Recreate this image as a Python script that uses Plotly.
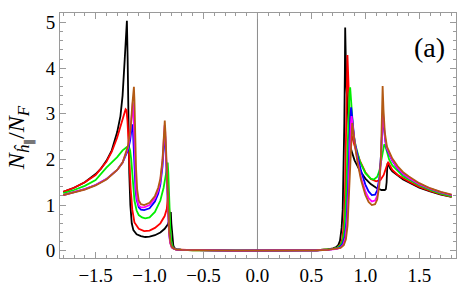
import plotly.graph_objects as go

# ---- data ----
bk_x = [-1.8,-1.7,-1.6,-1.5,-1.45,-1.4,-1.35,-1.3,-1.27,-1.25,-1.23,-1.218,-1.21,-1.203,-1.196,-1.188,-1.178,-1.165,-1.15,-1.12,-1.08,-1.04,-1.0,-0.95,-0.9,-0.86,-0.83,-0.815,-0.806,-0.803,-0.798,-0.79,-0.78,-0.77,-0.75,-0.7,-0.6,-0.4,-0.2,0,0.2,0.4,0.55,0.65,0.7,0.73,0.75,0.765,0.78,0.79,0.798,0.805,0.81,0.813,0.818,0.825,0.835,0.85,0.87,0.9,0.95,1.0,1.05,1.1,1.15,1.18,1.19,1.197,1.203,1.207,1.215,1.23,1.25,1.3,1.35,1.4,1.5,1.6,1.7,1.8]
bk_y = [1.29,1.38,1.5,1.68,1.8,1.97,2.2,2.6,2.95,3.4,4.2,4.6,5.04,4.2,2.9,1.7,1.0,0.6,0.45,0.36,0.32,0.30,0.31,0.34,0.4,0.48,0.58,0.68,0.8,0.85,0.6,0.3,0.12,0.06,0.03,0.02,0.01,0.005,0,0,0,0.005,0.01,0.03,0.05,0.08,0.13,0.22,0.5,0.9,1.6,2.8,3.9,4.89,4.3,3.6,3.0,2.5,2.2,1.98,1.75,1.58,1.46,1.38,1.33,1.33,1.35,1.5,1.85,1.92,1.88,1.8,1.74,1.64,1.56,1.5,1.38,1.3,1.23,1.18]

rd_x = [-1.8,-1.7,-1.6,-1.5,-1.4,-1.35,-1.3,-1.26,-1.235,-1.222,-1.214,-1.205,-1.195,-1.185,-1.175,-1.16,-1.14,-1.1,-1.05,-1.0,-0.95,-0.9,-0.86,-0.84,-0.832,-0.827,-0.822,-0.815,-0.805,-0.795,-0.78,-0.76,-0.7,-0.6,-0.4,-0.2,0,0.2,0.4,0.55,0.65,0.7,0.74,0.77,0.785,0.8,0.81,0.818,0.826,0.834,0.84,0.847,0.856,0.87,0.885,0.9,0.95,1.0,1.05,1.1,1.14,1.17,1.19,1.205,1.212,1.22,1.235,1.25,1.3,1.35,1.4,1.5,1.6,1.7,1.8]
rd_y = [1.29,1.38,1.5,1.66,1.95,2.17,2.48,2.82,3.03,3.1,3.08,2.85,2.4,1.85,1.35,0.9,0.62,0.48,0.43,0.44,0.5,0.6,0.76,0.92,1.1,1.29,1.1,0.7,0.3,0.13,0.06,0.03,0.02,0.01,0.005,0,0,0,0.005,0.01,0.03,0.04,0.07,0.14,0.25,0.55,1.1,2.0,3.3,4.29,3.9,3.3,2.85,2.55,2.4,2.3,1.97,1.72,1.57,1.52,1.55,1.66,1.8,1.93,1.95,1.9,1.83,1.77,1.66,1.58,1.52,1.4,1.31,1.24,1.18]

gr_x = [-1.8,-1.7,-1.6,-1.5,-1.4,-1.3,-1.25,-1.22,-1.2,-1.19,-1.18,-1.17,-1.16,-1.15,-1.14,-1.12,-1.1,-1.07,-1.04,-1.0,-0.95,-0.9,-0.87,-0.85,-0.838,-0.832,-0.826,-0.818,-0.808,-0.798,-0.785,-0.77,-0.75,-0.7,-0.6,-0.4,-0.2,0,0.2,0.4,0.55,0.65,0.7,0.74,0.77,0.79,0.805,0.82,0.832,0.842,0.852,0.859,0.866,0.875,0.89,0.91,0.95,1.0,1.05,1.08,1.11,1.13,1.15,1.165,1.175,1.185,1.2,1.22,1.25,1.3,1.35,1.4,1.5,1.6,1.7,1.8]
gr_y = [1.26,1.33,1.42,1.55,1.82,2.05,2.2,2.26,2.29,2.27,2.2,2.0,1.7,1.35,1.1,0.88,0.78,0.73,0.71,0.73,0.85,1.1,1.38,1.65,1.85,1.93,1.7,1.1,0.5,0.2,0.08,0.04,0.03,0.02,0.01,0.005,0,0,0,0.005,0.01,0.03,0.04,0.07,0.12,0.22,0.45,1.1,2.0,2.9,3.45,3.58,3.3,2.9,2.55,2.3,1.95,1.7,1.58,1.56,1.62,1.75,1.98,2.2,2.33,2.3,2.15,2.0,1.87,1.74,1.63,1.56,1.43,1.33,1.25,1.19]

bl_x = [-1.8,-1.7,-1.6,-1.5,-1.4,-1.3,-1.25,-1.2,-1.18,-1.168,-1.16,-1.155,-1.148,-1.14,-1.13,-1.12,-1.1,-1.08,-1.05,-1.0,-0.95,-0.92,-0.9,-0.88,-0.868,-0.86,-0.855,-0.848,-0.84,-0.83,-0.82,-0.81,-0.795,-0.78,-0.76,-0.7,-0.6,-0.4,-0.2,0,0.2,0.4,0.55,0.65,0.7,0.74,0.77,0.79,0.81,0.825,0.838,0.85,0.86,0.868,0.876,0.885,0.9,0.93,0.96,1.0,1.03,1.06,1.09,1.11,1.13,1.145,1.155,1.163,1.172,1.185,1.2,1.25,1.3,1.35,1.4,1.5,1.6,1.7,1.8]
bl_y = [1.22,1.28,1.35,1.44,1.57,1.77,1.93,2.2,2.42,2.65,2.77,2.7,2.3,1.8,1.35,1.12,0.95,0.9,0.89,0.93,1.08,1.25,1.45,1.85,2.3,2.57,2.5,2.1,1.5,0.9,0.45,0.2,0.08,0.05,0.03,0.02,0.01,0.005,0,0,0,0.005,0.01,0.02,0.03,0.05,0.09,0.15,0.3,0.65,1.3,2.3,2.9,3.14,2.95,2.7,2.4,2.05,1.75,1.45,1.3,1.22,1.23,1.32,1.6,2.1,2.6,3.0,2.7,2.4,2.22,1.97,1.8,1.68,1.6,1.46,1.36,1.28,1.22]

mg_x = [-1.8,-1.7,-1.6,-1.5,-1.4,-1.3,-1.25,-1.2,-1.18,-1.165,-1.155,-1.15,-1.143,-1.135,-1.125,-1.115,-1.1,-1.08,-1.05,-1.0,-0.95,-0.92,-0.9,-0.88,-0.868,-0.86,-0.855,-0.848,-0.84,-0.83,-0.82,-0.81,-0.795,-0.78,-0.76,-0.7,-0.6,-0.4,-0.2,0,0.2,0.4,0.55,0.65,0.7,0.74,0.77,0.795,0.815,0.83,0.843,0.855,0.865,0.872,0.88,0.89,0.905,0.93,0.96,1.0,1.03,1.06,1.09,1.11,1.13,1.145,1.155,1.162,1.172,1.185,1.2,1.25,1.3,1.35,1.4,1.5,1.6,1.7,1.8]
mg_y = [1.22,1.28,1.35,1.44,1.57,1.77,1.93,2.25,2.55,2.95,3.25,3.1,2.5,1.8,1.35,1.12,0.99,0.95,0.95,1.0,1.15,1.32,1.52,1.95,2.45,2.75,2.6,2.15,1.5,0.85,0.4,0.18,0.07,0.05,0.03,0.02,0.01,0.005,0,0,0,0.005,0.01,0.02,0.03,0.04,0.07,0.13,0.28,0.6,1.25,2.2,2.75,2.95,2.8,2.55,2.3,1.95,1.6,1.3,1.15,1.08,1.1,1.2,1.5,2.0,2.6,3.1,2.75,2.42,2.24,1.98,1.81,1.69,1.6,1.46,1.36,1.28,1.22]

or_x = [-1.8,-1.7,-1.6,-1.5,-1.4,-1.3,-1.25,-1.2,-1.175,-1.16,-1.15,-1.145,-1.14,-1.133,-1.125,-1.115,-1.1,-1.08,-1.05,-1.0,-0.95,-0.92,-0.9,-0.88,-0.868,-0.859,-0.853,-0.846,-0.838,-0.828,-0.818,-0.805,-0.79,-0.775,-0.76,-0.7,-0.6,-0.4,-0.2,0,0.2,0.4,0.55,0.65,0.7,0.74,0.77,0.8,0.82,0.835,0.848,0.86,0.87,0.878,0.886,0.895,0.91,0.93,0.96,1.0,1.03,1.06,1.09,1.11,1.13,1.145,1.155,1.16,1.168,1.18,1.2,1.25,1.3,1.35,1.4,1.5,1.6,1.7,1.8]
or_y = [1.22,1.28,1.34,1.43,1.56,1.77,1.93,2.3,2.7,3.2,3.5,3.59,3.3,2.5,1.8,1.35,1.1,1.02,1.0,1.05,1.2,1.38,1.58,2.0,2.5,2.85,2.6,2.1,1.5,0.8,0.4,0.15,0.07,0.05,0.03,0.02,0.01,0.005,0,0,0,0.005,0.01,0.02,0.03,0.04,0.06,0.12,0.25,0.55,1.2,2.1,2.6,2.8,2.65,2.45,2.2,1.9,1.55,1.22,1.07,1.0,1.02,1.12,1.45,2.1,2.9,3.61,3.1,2.6,2.28,2.02,1.85,1.72,1.63,1.48,1.37,1.29,1.23]

x_ticks = [-1.5, -1.0, -0.5, 0.0, 0.5, 1.0, 1.5]
y_ticks = [0, 1, 2, 3, 4, 5]

series = [
    (bk_x, bk_y, "black"),
    (rd_x, rd_y, "#ff0000"),
    (gr_x, gr_y, "#00ee00"),
    (bl_x, bl_y, "#0000ff"),
    (mg_x, mg_y, "#ff00ff"),
    (or_x, or_y, "#b35a14"),
]

fig = go.Figure()
for xs, ys, col in series:
    fig.add_trace(go.Scatter(x=xs, y=ys, mode="lines",
                             line=dict(color=col, width=1.8),
                             showlegend=False, hoverinfo="skip"))

fig.add_vline(x=0, line=dict(color="#8a8a8a", width=1), layer="below")

serif = "Times New Roman"
axis_common = dict(showline=True, linecolor="#9a9a9a", linewidth=1, mirror="ticks",
                   ticks="inside", tickcolor="#9a9a9a", showgrid=False, zeroline=False,
                   tickfont=dict(family=serif, size=19, color="black"))

fig.update_xaxes(range=[-1.83, 1.84], tickvals=x_ticks, tickformat=".1f", ticklen=6,
                 minor=dict(dtick=0.1, tick0=0, ticks="inside", ticklen=3, tickcolor="#9a9a9a"),
                 **axis_common)
fig.update_yaxes(range=[-0.16, 5.21], tickvals=y_ticks, ticklen=6,
                 minor=dict(dtick=0.2, tick0=0, ticks="inside", ticklen=3, tickcolor="#9a9a9a"),
                 **axis_common)

fig.add_annotation(text="<i>N</i><sub><i>ĥ</i><sub>∥</sub></sub>/<i>N</i><sub><i>F</i></sub>",
                   xref="paper", yref="paper", x=-0.1, y=0.49, textangle=-90,
                   showarrow=False, font=dict(family=serif, size=24, color="black"),
                   xanchor="center", yanchor="middle")
fig.add_annotation(text="(a)", xref="paper", yref="paper", x=0.934, y=0.861,
                   showarrow=False, font=dict(family=serif, size=28, color="black"),
                   xanchor="center", yanchor="middle")

fig.update_layout(width=473, height=298, margin=dict(l=60, r=17, t=13, b=40),
                  plot_bgcolor="white", paper_bgcolor="white",
                  font=dict(family=serif))

fig.write_html("out.html")
